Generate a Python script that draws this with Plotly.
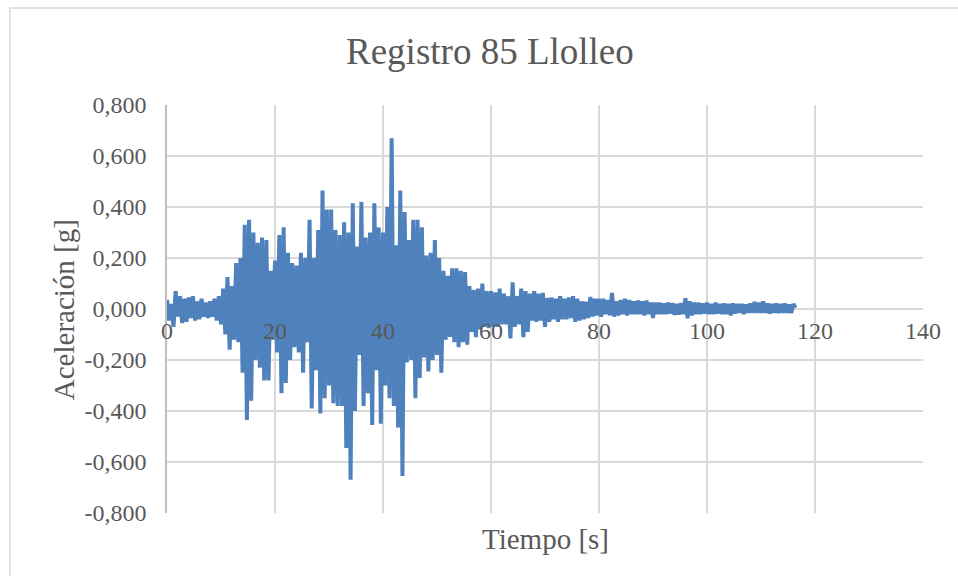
import numpy as np
import plotly.graph_objects as go

# sampling step of the digitised record (s)
DT = 0.4

# acceleration [g], one row = 4 s
acel = [
    0.035, -0.045, 0.02, -0.07, 0.07, -0.03, 0.05, -0.055, 0.04, -0.05,
    0.045, -0.035, 0.05, -0.045, 0.03, -0.04, 0.04, -0.03, 0.025, -0.035,
    0.03, -0.03, 0.04, -0.045, 0.05, -0.06, 0.08, -0.1, 0.125, -0.16,
    0.09, -0.12, 0.18, -0.13, 0.2, -0.25, 0.33, -0.435, 0.35, -0.36,
    0.3, -0.2, 0.26, -0.23, 0.28, -0.28, 0.27, -0.28, 0.15, -0.12,
    0.19, -0.17, 0.29, -0.33, 0.32, -0.29, 0.22, -0.2, 0.18, -0.15,
    0.17, -0.17, 0.22, -0.25, 0.2, -0.13, 0.35, -0.39, 0.2, -0.24,
    0.31, -0.41, 0.465, -0.35, 0.39, -0.3, 0.39, -0.37, 0.31, -0.38,
    0.29, -0.38, 0.34, -0.545, 0.3, -0.67, 0.415, -0.4, 0.245, -0.18,
    0.42, -0.38, 0.28, -0.33, 0.3, -0.455, 0.415, -0.24, 0.32, -0.45,
    0.3, -0.3, 0.4, -0.35, 0.67, -0.38, 0.25, -0.465, 0.465, -0.655,
    0.38, -0.21, 0.27, -0.2, 0.35, -0.35, 0.35, -0.27, 0.32, -0.19,
    0.21, -0.245, 0.22, -0.2, 0.27, -0.18, 0.2, -0.25, 0.15, -0.12,
    0.13, -0.11, 0.16, -0.13, 0.16, -0.15, 0.15, -0.13, 0.145, -0.14,
    0.09, -0.09, 0.075, -0.11, 0.08, -0.08, 0.1, -0.07, 0.07, -0.075,
    0.07, -0.07, 0.065, -0.07, 0.08, -0.06, 0.06, -0.06, 0.05, -0.115,
    0.105, -0.07, 0.05, -0.06, 0.08, -0.11, 0.07, -0.09, 0.06, -0.045,
    0.07, -0.05, 0.06, -0.045, 0.063, -0.07, 0.043, -0.05, 0.045, -0.04,
    0.04, -0.05, 0.05, -0.04, 0.04, -0.04, 0.045, -0.035, 0.05, -0.05,
    0.04, -0.045, 0.03, -0.04, 0.028, -0.035, 0.047, -0.03, 0.04, -0.025,
    0.04, -0.03, 0.04, -0.02, 0.035, -0.025, 0.063, -0.03, 0.03, -0.025,
    0.035, -0.02, 0.04, -0.025, 0.035, -0.02, 0.03, -0.02, 0.033, -0.02,
    0.03, -0.025, 0.033, -0.02, 0.025, -0.035, 0.025, -0.02, 0.025, -0.02,
    0.022, -0.02, 0.025, -0.018, 0.023, -0.023, 0.02, -0.022, 0.023, -0.02,
    0.042, -0.036, 0.03, -0.025, 0.025, -0.02, 0.025, -0.02, 0.022, -0.018,
    0.025, -0.02, 0.02, -0.02, 0.025, -0.018, 0.02, -0.02, 0.022, -0.02,
    0.02, -0.025, 0.022, -0.018, 0.02, -0.015, 0.02, -0.02, 0.018, -0.015,
    0.022, -0.015, 0.028, -0.015, 0.025, -0.015, 0.03, -0.015, 0.022, -0.018,
    0.02, -0.015, 0.022, -0.016, 0.02, -0.015, 0.022, -0.015, 0.018, -0.016,
    0.02, 0.005,
]
tiempo = np.arange(len(acel)) * DT

x_ticks = [0, 20, 40, 60, 80, 100, 120, 140]
y_ticks = [-0.8, -0.6, -0.4, -0.2, 0.0, 0.2, 0.4, 0.6, 0.8]
y_tick_text = ["-0,800", "-0,600", "-0,400", "-0,200", "0,000",
               "0,200", "0,400", "0,600", "0,800"]

FONT = "Liberation Serif"
GREY = "#595959"

fig = go.Figure(go.Scatter(
    x=tiempo, y=acel, mode="lines",
    line=dict(color="#4F81BD", width=4),
    showlegend=False,
))

fig.update_layout(
    width=958, height=576,
    margin=dict(l=167, r=35, t=105, b=63),
    paper_bgcolor="white", plot_bgcolor="white",
    font=dict(family=FONT, color=GREY, size=24),
)
# x labels sit on the zero line, Excel style; the line itself is a shape below the data
fig.update_xaxes(
    range=[0, 140], tickvals=x_ticks,
    showgrid=True, gridcolor="#d9d9d9", gridwidth=1.5,
    zeroline=False, showline=False,
    anchor="free", position=0.5, ticks="", ticklabelstandoff=5,
    tickfont=dict(size=24, color=GREY),
)
fig.update_yaxes(
    range=[-0.8, 0.8], tickvals=y_ticks, ticktext=y_tick_text,
    showgrid=True, gridcolor="#d9d9d9", gridwidth=1.5,
    zeroline=False, showline=True, linecolor="#bfbfbf", linewidth=1.5,
    ticks="", ticklabelstandoff=14, layer="below traces",
    tickfont=dict(size=24, color=GREY),
)

fig.add_shape(type="line", xref="paper", yref="y",
              x0=0, x1=1, y0=0, y1=0,
              line=dict(color="#bfbfbf", width=1.5), layer="below")

# chart frame (runs off the right and bottom edges)
fig.add_shape(type="rect", xref="paper", yref="paper",
              x0=-0.2077, y0=-0.17, x1=1.06, y1=1.2377,
              line=dict(color="#d9d9d9", width=1.5), layer="below")

fig.add_annotation(text="Registro 85 Llolleo", xref="paper", yref="paper",
                   x=0.427, y=1.130, xanchor="center", yanchor="middle",
                   showarrow=False, font=dict(size=37, color=GREY, family=FONT))
fig.add_annotation(text="Tiempo [s]", xref="paper", yref="paper",
                   x=0.5, y=-0.064, xanchor="center", yanchor="middle",
                   showarrow=False, font=dict(size=29, color=GREY, family=FONT))
fig.add_annotation(text="Aceleración [g]", xref="paper", yref="paper",
                   x=-0.136, y=0.4975, xanchor="center", yanchor="middle",
                   textangle=-90, showarrow=False,
                   font=dict(size=29, color=GREY, family=FONT))

fig.write_html("out.html", config={"displayModeBar": False},
               post_script="document.body.style.margin='0';")
